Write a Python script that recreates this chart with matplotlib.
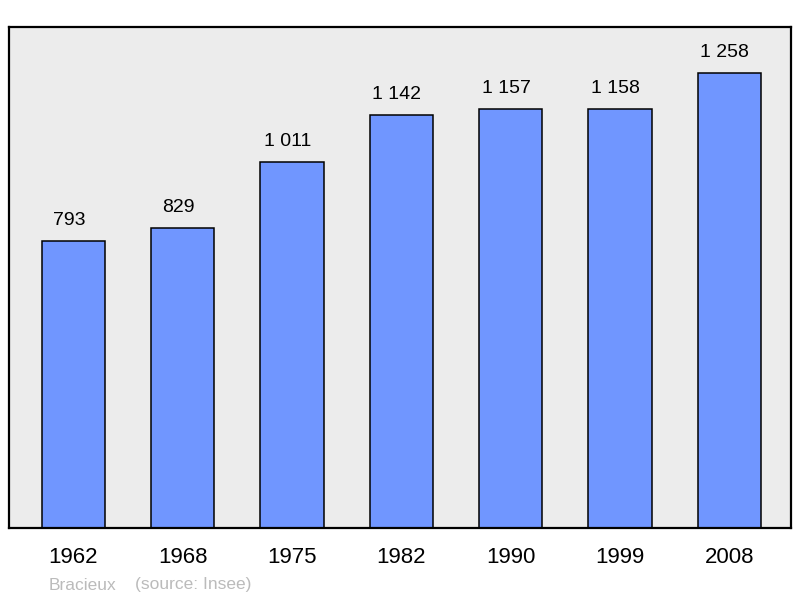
import matplotlib
matplotlib.use("Agg")
import matplotlib.pyplot as plt

years = ["1962", "1968", "1975", "1982", "1990", "1999", "2008"]
population = [793, 829, 1011, 1142, 1157, 1158, 1258]
value_labels = ["793", "829", "1 011", "1 142", "1 157", "1 158", "1 258"]
commune = "Bracieux"
source = "(source: Insee)"

plt.rcParams['font.family'] = ['Liberation Sans', 'DejaVu Sans']

fig = plt.figure(figsize=(8, 5.98), dpi=100)
W, H = 800, 598
ax = fig.add_axes([9 / W, (H - 528) / H, 782 / W, 501 / H])
ax.set_facecolor('#ececec')

x = list(range(len(years)))
ax.bar(x, population, width=0.58, color='#7096ff', edgecolor='black', linewidth=1.1, zorder=2)
for xi, v, lab in zip(x, population, value_labels):
    ax.annotate(lab, (xi, v), xytext=(-3.2, 8.5), textcoords='offset points',
                ha='center', va='bottom', fontsize=14, color='black')

ax.set_xlim(-0.59, 6.565)
ax.set_ylim(0, max(population) * 1.1)
ax.set_yticks([])
ax.set_xticks(x)
ax.set_xticklabels(years, fontsize=16)
ax.tick_params(axis='x', length=0, pad=14)
for s in ax.spines.values():
    s.set_linewidth(1.6)
    s.set_color('black')

fig.text(49 / W, 1 - 585 / H, commune, fontsize=12.5, color='#bbbbbb', va='center', ha='left')
fig.text(135 / W, 1 - 585 / H, source, fontsize=12.5, color='#bbbbbb', va='center', ha='left')

fig.savefig('out.png', dpi=100)
